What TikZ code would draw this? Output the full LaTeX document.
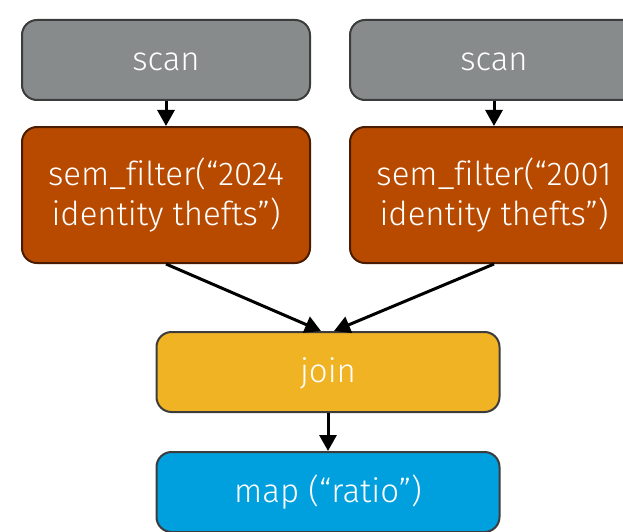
\documentclass[tikz,border=0pt]{standalone}
\usepackage{fontspec}
\setmainfont{Fira Sans}[UprightFont=* Light,Ligatures=NoCommon]
\usepackage{xcolor}
\definecolor{cScan}{HTML}{888B8B}
\definecolor{cFilter}{HTML}{B84A00}
\definecolor{cJoin}{HTML}{F0B324}
\definecolor{cMap}{HTML}{009FDE}
\definecolor{cEdge}{HTML}{3C3C3C}
\definecolor{cEdgeF}{HTML}{4A1C00}
\usetikzlibrary{positioning,arrows.meta}
\tikzset{
  op-box/.style={draw=cEdge,line width=2pt,rounded corners=15pt,
    minimum width=288pt,minimum height=80pt,inner sep=0pt,align=center,
    text=white,font=\fontsize{33}{40}\selectfont},
  op-line/.style={text height=26pt,text depth=4.6pt},
  op-scan/.style={fill=cScan,op-line},
  op-filter/.style={fill=cFilter,draw=cEdgeF,minimum height=136pt},
  op-join/.style={fill=cJoin,minimum width=343pt,op-line},
  op-map/.style={fill=cMap,minimum width=343pt,op-line},
  arrow/.style={-{Triangle[length=16pt,width=17pt]},line width=3pt,draw=black},
}
\begin{document}
\begin{tikzpicture}[x=1pt,y=-1pt]
  \useasboundingbox (0,0) rectangle (623,532);
  \node[op-box,op-scan]   (s1) at (166,60)  {scan};
  \node[op-box,op-scan]   (s2) at (494,60)  {scan};
  \node[op-box,op-filter] (f1) at (166,195) {sem\_filter(“2024\\identity thefts”)};
  \node[op-box,op-filter] (f2) at (494,195) {sem\_filter(“2001\\identity thefts”)};
  \node[op-box,op-join]   (j)  at (328,372) {join};
  \node[op-box,op-map]    (m)  at (328,492) {map (“ratio”)};
  \draw[arrow] (s1) -- (f1);
  \draw[arrow] (s2) -- (f2);
  \draw[arrow] (f1.south) -- ([xshift=-7pt]j.north);
  \draw[arrow] (f2.south) -- ([xshift=6pt]j.north);
  \draw[arrow] (j) -- (m);
\end{tikzpicture}
\end{document}
